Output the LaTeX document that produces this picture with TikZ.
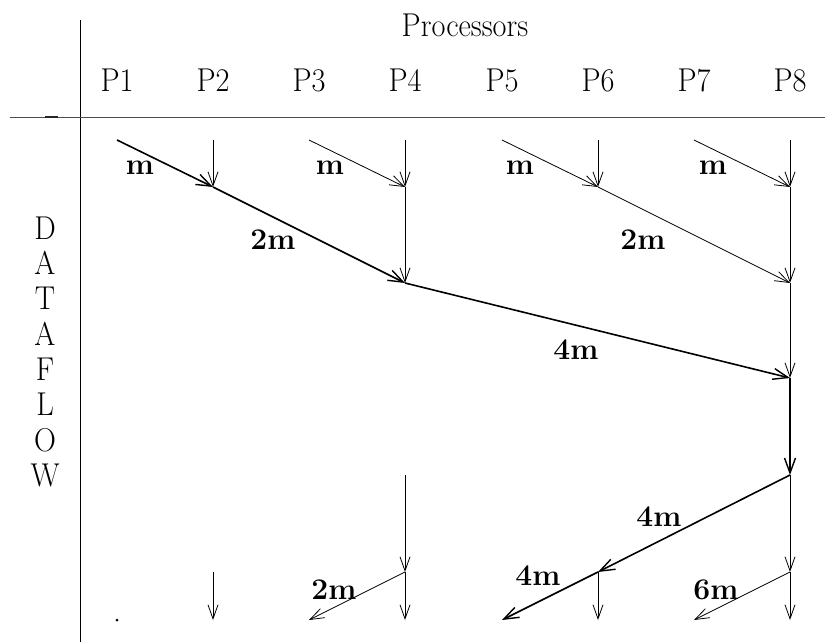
\documentclass[tikz,border=0pt]{standalone}
\usetikzlibrary{arrows.meta}
\begin{document}
\begin{tikzpicture}[x=1pt,y=-1pt,
  thinarr/.style={line width=0.8pt,-{Straight Barb[length=14pt,width=10pt,line width=0.8pt]}},
  thickarr/.style={line width=1.6pt,-{Straight Barb[length=15pt,width=11pt,line width=1.4pt]}},
  lbl/.style={font=\fontsize{30}{32}\selectfont\bfseries,inner sep=0pt},
  hdr/.style={font=\fontsize{33}{35}\selectfont,inner sep=0pt,xscale=0.92},
  plain/.style={line width=0.8pt}]
\useasboundingbox (0,0) rectangle (825,642);
% grid coordinates
\foreach \i/\x in {1/117,2/213,3/309,4/405,5/502,6/598,7/694,8/790}{
  \foreach \j/\y in {0/140,1/187,2/283,3/378,4/475,5/572,6/620}{
    \coordinate (c\i-\j) at (\x,\y);
  }
  \node[hdr] (P\i) at (\x,80) {P\i};
}
\node[hdr] (proc) at (465,25) {Processors};
% axes
\coordinate (vt) at (80,20);
\coordinate (vb) at (80,642);
\coordinate (hl) at (10,117);
\coordinate (hr) at (825,117);
\coordinate (tl) at (45,117);
\coordinate (tr) at (58,117);
\draw[plain] (vt) -- (vb);
\draw[line width=0.8pt,black!70] (hl) -- (hr);
\draw[line width=1.1pt,black!85] (tl) -- (tr);
% DATAFLOW
\foreach \l [count=\k from 0] in {D,A,T,A,F,L,O,W}{
  \node[hdr] (df\k) at (45,{228+35.3*\k}) {\l};
}
% stage 1
\draw[thickarr] (c1-0) -- (c2-1);
\draw[thinarr] (c2-0) -- (c2-1);
\draw[thinarr] (c3-0) -- (c4-1);
\draw[thinarr] (c4-0) -- (c4-1);
\draw[thinarr] (c5-0) -- (c6-1);
\draw[thinarr] (c6-0) -- (c6-1);
\draw[thinarr] (c7-0) -- (c8-1);
\draw[thinarr] (c8-0) -- (c8-1);
\node[lbl] (m1) at (140,168) {m};
\node[lbl] (m2) at (330,168) {m};
\node[lbl] (m3) at (520,168) {m};
\node[lbl] (m4) at (713,168) {m};
% stage 2
\draw[thickarr] (c2-1) -- (c4-2);
\draw[thinarr] (c4-1) -- (c4-2);
\draw[thinarr] (c6-1) -- (c8-2);
\draw[thinarr] (c8-1) -- (c8-2);
\node[lbl] (m5) at (273,240) {2m};
\node[lbl] (m6) at (643,240) {2m};
% stage 3
\draw[thickarr] (c4-2) -- (c8-3);
\draw[thinarr] (c8-2) -- (c8-3);
\node[lbl] (m7) at (576,350) {4m};
% stage 4
\draw[thickarr] (c8-3) -- (c8-4);
% stage 5
\draw[thickarr] (c8-4) -- (c6-5);
\draw[thickarr] (c6-5) -- (c5-6);
\draw[thinarr] (c8-4) -- (c8-5);
\draw[thinarr] (c8-5) -- (c8-6);
\draw[thinarr] (c8-5) -- (c7-6);
\draw[thinarr] (c6-5) -- (c6-6);
\draw[thinarr] (c4-4) -- (c4-5);
\draw[thinarr] (c4-5) -- (c4-6);
\draw[thinarr] (c4-5) -- (c3-6);
\draw[thinarr] (c2-5) -- (c2-6);
\fill (c1-6) circle (1.5pt);
\node[lbl] (m8) at (659,517) {4m};
\node[lbl] (m9) at (538,576) {4m};
\node[lbl] (m10) at (334,590) {2m};
\node[lbl] (m11) at (716,590) {6m};
\end{tikzpicture}
\end{document}
